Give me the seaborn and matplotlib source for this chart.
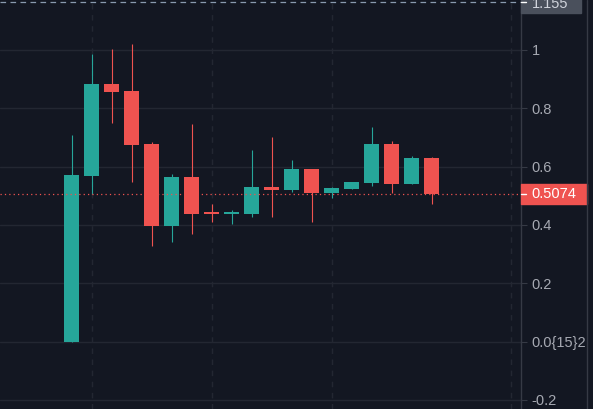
import numpy as np
import pandas as pd
import matplotlib
matplotlib.use("Agg")
import matplotlib.pyplot as plt
from matplotlib.patches import Rectangle
import seaborn as sns

# OHLC candles
opens  = [0.000, 0.569, 0.885, 0.858, 0.677, 0.398, 0.564, 0.441, 0.436, 0.439,
          0.530, 0.521, 0.591, 0.510, 0.524, 0.545, 0.677, 0.541, 0.629]
highs  = [0.708, 0.985, 1.002, 1.022, 0.684, 0.574, 0.745, 0.472, 0.451, 0.656,
          0.701, 0.622, 0.591, 0.529, 0.547, 0.735, 0.687, 0.636, 0.633]
lows   = [0.000, 0.506, 0.750, 0.548, 0.329, 0.343, 0.370, 0.411, 0.404, 0.428,
          0.428, 0.514, 0.411, 0.493, 0.524, 0.534, 0.510, 0.541, 0.473]
closes = [0.571, 0.885, 0.856, 0.675, 0.398, 0.564, 0.439, 0.436, 0.441, 0.530,
          0.521, 0.591, 0.509, 0.526, 0.547, 0.677, 0.541, 0.629, 0.5074]

y_ticks  = [1.0, 0.8, 0.6, 0.4, 0.2, 0.0, -0.2]
y_labels = ["1", "0.8", "0.6", "0.4", "0.2", "0.0{15}2", "-0.2"]
session_marks = [1, 7, 13, 21.95]
last_price = 0.5074
high_mark = 1.163
high_label = "1.155"

BG      = "#131722"
GRID    = "#232732"
AXIS    = "#363a45"
TEXT    = "#a6a9b2"
UP      = "#26a69a"
DOWN    = "#ef5350"

sns.set_theme(style="dark", rc={
    "axes.facecolor": BG,
    "figure.facecolor": BG,
    "grid.color": GRID,
})
plt.rcParams["font.family"] = ["Liberation Sans", "DejaVu Sans"]

df = pd.DataFrame({"open": opens, "high": highs, "low": lows, "close": closes})
df["idx"] = np.arange(len(df))
df["up"] = df["close"] >= df["open"]
df["color"] = np.where(df["up"], UP, DOWN)
df["bottom"] = df[["open", "close"]].min(axis=1)
df["height"] = (df["close"] - df["open"]).abs().clip(lower=0.007)

W, H = 593, 409
fig = plt.figure(figsize=(W / 100, H / 100), dpi=100)
ax = fig.add_axes([0, 0, 520.5 / W, 1])

# grid
for v in y_ticks:
    ax.axhline(v, color=GRID, lw=1.0, zorder=0)
for s in session_marks:
    ax.axvline(s, color=GRID, lw=1.0, ls=(0, (4, 4)), zorder=0)

# candles
ax.vlines(df["idx"], df["low"], df["high"], colors=df["color"], lw=0.8, zorder=2)
ax.bar(df["idx"], df["height"], bottom=df["bottom"], width=0.75,
       color=df["color"], linewidth=0, zorder=3)

# last price and high marker lines
ax.axhline(last_price, color=DOWN, lw=0.9, ls=(0, (1, 2.5)), zorder=4)
ax.axhline(high_mark, color="#8a9bb0", lw=0.9, ls=(0, (4.5, 3.5)), zorder=4)

ax.set_xlim(-3.575, 22.45)
ax.set_ylim(-0.2309, 1.1714)
ax.set_xticks([])
ax.yaxis.tick_right()
ax.set_yticks(y_ticks)
ax.set_yticklabels(y_labels)
ax.tick_params(axis="y", length=4, width=0.8, color=AXIS, labelcolor=TEXT,
               labelsize=10.5, pad=4)
ax.grid(False)
for side in ["top", "left", "bottom"]:
    ax.spines[side].set_visible(False)
ax.spines["right"].set_color(AXIS)
ax.spines["right"].set_linewidth(1.0)

# price scale labels
trans = ax.get_yaxis_transform()
px = 1 / 520.5
ax.add_patch(Rectangle((1.0, last_price - 10.2 / 291.67), 66 * px, 20.3 / 291.67,
                       transform=trans, color=DOWN, clip_on=False, zorder=5))
ax.plot([1.0, 1.0 + 5.5 * px], [last_price] * 2, transform=trans, color="white",
        lw=1.0, clip_on=False, zorder=6)
ax.text(1.0 + 10.5 * px, last_price, f"{last_price:.4f}", transform=trans,
        color="white", fontsize=10.5, va="center", ha="left", zorder=7)

ax.add_patch(Rectangle((1.0, high_mark - 10.4 / 291.67), 60 * px, 20 / 291.67,
                       transform=trans, color="#4a505c", clip_on=False, zorder=5))
ax.plot([1.0, 1.0 + 5.5 * px], [high_mark] * 2, transform=trans, color="white",
        lw=1.0, clip_on=False, zorder=6)
ax.text(1.0 + 11 * px, high_mark - 0.004, high_label, transform=trans,
        color="#d1d4dc", fontsize=10.5, va="center", ha="left", zorder=7)

# right border of the price scale
fig.add_artist(plt.Line2D([586.7 / W] * 2, [0, 1], transform=fig.transFigure,
                          color=AXIS, lw=1.0))

fig.savefig("out.png", dpi=100, facecolor=BG)
